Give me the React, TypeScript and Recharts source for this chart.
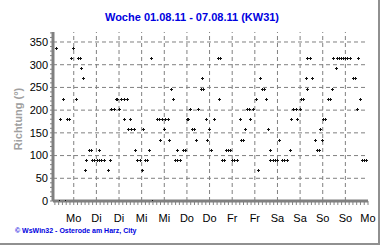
import { ScatterChart, Scatter, XAxis, YAxis, ReferenceLine } from 'recharts'

// hour of the week (0 = Mo 00:00) and wind direction in degrees
const hours = [
  2.8, 4.1, 4.9, 6.2, 7.6, 8.5, 9.7, 10.8, 11.8, 13.1, 14.1, 15.4, 16.1, 16.8, 17.8, 18.7, 19.9, 21.0, 21.7, 22.9,
  24.2, 25.2, 25.4, 26.6, 27.9, 30.0, 31.0, 32.0, 33.2, 34.2, 35.0, 35.8, 37.0, 38.5, 38.8, 40.2, 41.0, 42.0, 42.5, 44.0,
  44.6, 45.7, 46.9, 48.0, 48.9, 49.6, 50.8, 52.1, 53.1, 53.6, 55.9, 57.2, 57.9, 58.9, 60.0, 60.2, 62.0, 62.6, 63.4, 64.8,
  65.6, 66.7, 66.9, 68.3, 69.7, 70.8, 71.8, 72.7, 73.6, 74.8, 75.9, 76.9, 78.0, 79.2, 80.1, 80.5, 81.9, 82.8, 83.8, 84.5,
  86.3, 88.4, 89.1, 89.6, 90.7, 91.9, 92.6, 93.9, 95.1, 95.8, 96.9, 98.5, 99.9, 100.6, 101.6, 102.9, 103.9, 105.0, 105.2, 106.8,
  108.7, 109.9, 110.8, 111.9, 113.1, 114.0, 115.1, 116.0, 116.3, 117.4, 118.6, 119.8, 120.9, 122.3, 123.5, 125.1, 126.4, 127.2, 128.4, 129.7,
  130.6, 131.8, 132.7, 133.8, 134.9, 135.4, 135.9, 137.2, 138.4, 139.7, 140.7, 141.8, 142.7, 143.8, 144.3, 145.4, 146.8, 147.9, 148.8, 149.7,
  150.9, 151.5, 152.6, 153.7, 154.7, 155.8, 156.8, 158.2, 160.0, 161.1, 162.2, 162.7, 163.6, 164.8, 165.7, 166.8,
]
const directions = [
  337.5, 0, 180, 225, 0, 180, 180, 315, 337.5, 225, 315, 315, 292.5, 270, 67.5, 90, 112.5, 112.5, 90, 90,
  90, 112.5, 90, 90, 90, 67.5, 90, 202.5, 202.5, 225, 225, 202.5, 225, 225, 180, 225, 157.5, 180, 157.5, 157.5,
  112.5, 90, 90, 67.5, 157.5, 90, 90, 112.5, 315, 0, 180, 180, 135, 180, 157.5, 180, 180, 135, 247.5, 225,
  90, 112.5, 90, 90, 112.5, 112.5, 180, 180, 202.5, 157.5, 157.5, 135, 202.5, 247.5, 270, 247.5, 180, 135, 157.5, 112.5,
  180, 315, 225, 315, 90, 90, 112.5, 112.5, 112.5, 90, 90, 90, 180, 135, 135, 157.5, 202.5, 202.5, 180, 202.5,
  225, 67.5, 270, 247.5, 247.5, 225, 157.5, 112.5, 90, 90, 90, 90, 135, 90, 90, 90, 112.5, 180, 202.5, 202.5,
  180, 202.5, 225, 225, 270, 247.5, 315, 315, 270, 135, 112.5, 112.5, 157.5, 135, 180, 180, 225, 225, 247.5, 315,
  292.5, 315, 315, 315, 315, 315, 315, 315, 270, 270, 202.5, 315, 225, 90, 90, 90,
]

const majorHours = [12, 24, 36, 48, 60, 72, 84, 96, 108, 120, 132, 144, 156, 168]
const dayLabels = ['Mo', 'Di', 'Di', 'Mi', 'Mi', 'Do', 'Do', 'Fr', 'Fr', 'Sa', 'Sa', 'So', 'So', 'Mo']
const yLabels = [0, 50, 100, 150, 200, 250, 300, 350]

const minorHours = Array.from({ length: 84 }, (_, i) => (i + 1) * 2)
const minorDeg = Array.from({ length: 38 }, (_, i) => i * 10)

const data = hours.map((h, i) => ({ h, dir: directions[i] }))

const font = '"Liberation Sans", Arial, sans-serif'

// small 3px cross, snapped to the pixel grid so it stays crisp
const Cross = (props: any) => {
  const { cx, cy } = props
  if (cx == null || cy == null) return null
  const x = Math.round(cx) + 0.5
  const y = Math.round(cy) + 0.5
  return (
    <path
      d={`M${x - 1.5},${y}h3M${x},${y - 1.5}v3`}
      stroke="#111"
      strokeWidth={1}
      fill="none"
      shapeRendering="crispEdges"
    />
  )
}

export default function App() {
  return (
    <div style={{ position: 'absolute', left: 0, top: 0, width: 380, height: 245, background: '#fff', fontFamily: font }}>
      <div
        style={{
          position: 'absolute', top: 11, left: 2, width: 380, textAlign: 'center',
          fontSize: 11, lineHeight: '13px', fontWeight: 'bold', color: '#0000e0',
        }}
      >
        Woche 01.08.11 - 07.08.11 (KW31)
      </div>
      <div
        style={{
          position: 'absolute', left: 18, top: 119, transform: 'translate(-50%, -50%) rotate(-90deg)',
          whiteSpace: 'nowrap', fontSize: 11, fontWeight: 'bold', color: '#a0a0a0',
        }}
      >
        Richtung (°)
      </div>
      <ScatterChart
        width={380}
        height={245}
        margin={{ top: 32, right: 12, bottom: 14, left: 0 }}
        style={{ position: 'absolute', left: 0, top: 0 }}
      >
        <XAxis
          dataKey="h"
          type="number"
          domain={[1, 168]}
          allowDataOverflow
          ticks={minorHours}
          interval={0}
          tickFormatter={(v: number) => {
            const k = majorHours.indexOf(v)
            return k >= 0 ? dayLabels[k] : ''
          }}
          tick={{ fill: '#000', fontSize: 11, fontFamily: font }}
          tickSize={4}
          tickMargin={9}
          tickLine={{ stroke: '#808080' }}
          axisLine={{ stroke: '#808080', strokeWidth: 3 }}
          height={30}
        />
        <YAxis
          dataKey="dir"
          type="number"
          domain={[0, 372]}
          allowDataOverflow
          ticks={minorDeg}
          interval={0}
          tickFormatter={(v: number) => (yLabels.includes(v) ? String(v) : '')}
          tick={{ fill: '#000', fontSize: 11, fontFamily: font }}
          tickSize={3}
          tickMargin={2}
          tickLine={{ stroke: '#808080' }}
          axisLine={{ stroke: '#808080', strokeWidth: 3 }}
          width={53}
        />
        <XAxis
          xAxisId="top"
          orientation="top"
          type="number"
          domain={[1, 168]}
          height={0}
          tick={false}
          tickLine={false}
          axisLine={{ stroke: '#000' }}
        />
        <YAxis
          yAxisId="right"
          orientation="right"
          type="number"
          domain={[0, 372]}
          width={0}
          tick={false}
          tickLine={false}
          axisLine={{ stroke: '#000' }}
        />
        {majorHours.slice(0, -1).map(h => (
          <ReferenceLine key={'x' + h} x={h} stroke="#808080" strokeDasharray="4 3" />
        ))}
        {yLabels.slice(1).map(v => (
          <ReferenceLine key={'y' + v} y={v} stroke="#808080" strokeDasharray="4 3" />
        ))}
        <Scatter data={data} shape={Cross} isAnimationActive={false} />
      </ScatterChart>
      <div
        style={{
          position: 'absolute', left: 15, top: 227, fontSize: 7, lineHeight: '8px',
          fontWeight: 'bold', color: '#0000e0', whiteSpace: 'nowrap',
        }}
      >
        © WsWin32 - Osterode am Harz, City
      </div>
      <div style={{ position: 'absolute', left: 378, top: 0, width: 2, height: 245, background: '#909090' }} />
      <div style={{ position: 'absolute', left: 0, top: 243, width: 380, height: 2, background: '#909090' }} />
    </div>
  )
}
